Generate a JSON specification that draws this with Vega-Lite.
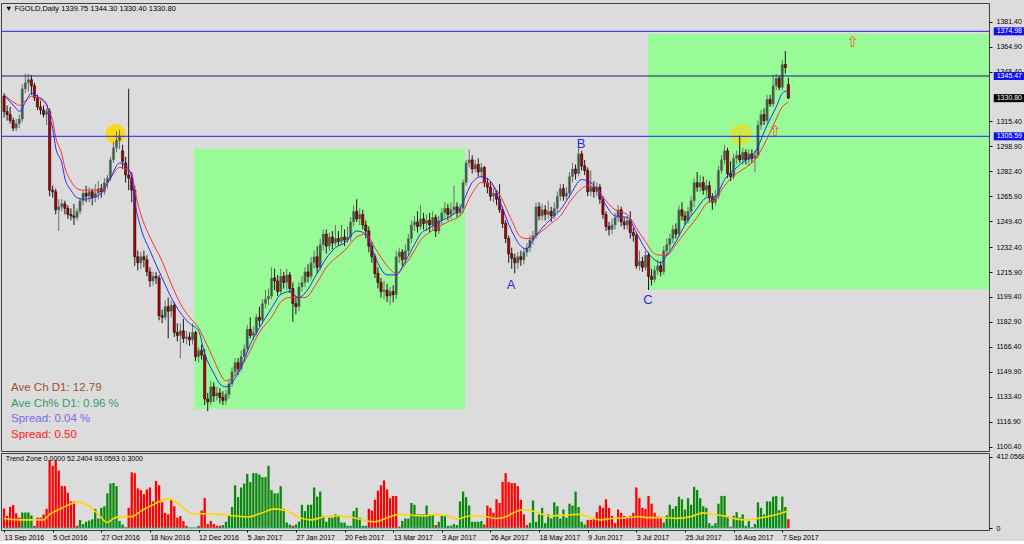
{
"$schema":"https://vega.github.io/schema/vega-lite/v6.json",
"background":"#dcdcdc",
"padding":{"left":0,"top":2,"right":0,"bottom":0},
"spacing":0,
"config":{"view":{"stroke":"#404040","strokeWidth":1},"axis":{"labelFont":"Liberation Sans","labelFontSize":7,"labelColor":"#000","tickColor":"#000","domain":false,"grid":false},"text":{"font":"Liberation Sans"}},
"datasets":{
"k":[
{"i":0,"o":1332,"h":1334,"l":1318,"c":1322,"v":113,"g":0},
{"i":1,"o":1322,"h":1326,"l":1316,"c":1320,"v":70,"g":0},
{"i":2,"o":1320,"h":1325,"l":1314,"c":1316,"v":122,"g":0},
{"i":3,"o":1316,"h":1318,"l":1309,"c":1311,"v":133,"g":0},
{"i":4,"o":1311,"h":1317,"l":1309,"c":1314,"v":85,"g":0},
{"i":5,"o":1314,"h":1320,"l":1311,"c":1317,"v":60,"g":0},
{"i":6,"o":1317,"h":1340,"l":1315,"c":1337,"v":90,"g":1},
{"i":7,"o":1337,"h":1347,"l":1334,"c":1341,"v":90,"g":1},
{"i":8,"o":1341,"h":1347,"l":1335,"c":1343,"v":90,"g":1},
{"i":9,"o":1343,"h":1346,"l":1333,"c":1339,"v":73,"g":1},
{"i":10,"o":1339,"h":1341,"l":1329,"c":1331,"v":13,"g":0},
{"i":11,"o":1331,"h":1333,"l":1323,"c":1325,"v":60,"g":0},
{"i":12,"o":1325,"h":1329,"l":1320,"c":1323,"v":60,"g":0},
{"i":13,"o":1323,"h":1326,"l":1318,"c":1320,"v":79,"g":0},
{"i":14,"o":1320,"h":1324,"l":1313,"c":1322,"v":111,"g":0},
{"i":15,"o":1322,"h":1324,"l":1266,"c":1270,"v":393,"g":0},
{"i":16,"o":1270,"h":1273,"l":1265,"c":1269,"v":361,"g":0},
{"i":17,"o":1269,"h":1271,"l":1254,"c":1257,"v":393,"g":0},
{"i":18,"o":1257,"h":1264,"l":1243,"c":1259,"v":333,"g":0},
{"i":19,"o":1259,"h":1264,"l":1256,"c":1261,"v":243,"g":0},
{"i":20,"o":1261,"h":1263,"l":1254,"c":1258,"v":243,"g":0},
{"i":21,"o":1258,"h":1260,"l":1251,"c":1254,"v":205,"g":0},
{"i":22,"o":1254,"h":1258,"l":1250,"c":1253,"v":154,"g":0},
{"i":23,"o":1253,"h":1261,"l":1247,"c":1252,"v":154,"g":0},
{"i":24,"o":1252,"h":1258,"l":1250,"c":1256,"v":13,"g":0},
{"i":25,"o":1256,"h":1265,"l":1254,"c":1263,"v":47,"g":1},
{"i":26,"o":1263,"h":1270,"l":1260,"c":1268,"v":23,"g":1},
{"i":27,"o":1268,"h":1273,"l":1262,"c":1266,"v":36,"g":1},
{"i":28,"o":1266,"h":1272,"l":1262,"c":1269,"v":43,"g":1},
{"i":29,"o":1269,"h":1271,"l":1260,"c":1265,"v":50,"g":1},
{"i":30,"o":1265,"h":1274,"l":1262,"c":1268,"v":111,"g":1},
{"i":31,"o":1268,"h":1276,"l":1264,"c":1271,"v":55,"g":1},
{"i":32,"o":1271,"h":1274,"l":1265,"c":1269,"v":117,"g":1},
{"i":33,"o":1269,"h":1278,"l":1267,"c":1275,"v":126,"g":1},
{"i":34,"o":1275,"h":1280,"l":1271,"c":1278,"v":201,"g":1},
{"i":35,"o":1278,"h":1292,"l":1276,"c":1290,"v":258,"g":1},
{"i":36,"o":1290,"h":1302,"l":1288,"c":1298,"v":261,"g":1},
{"i":37,"o":1298,"h":1309,"l":1295,"c":1303,"v":243,"g":1},
{"i":38,"o":1303,"h":1310,"l":1297,"c":1305,"v":41,"g":1},
{"i":39,"o":1296,"h":1300,"l":1284,"c":1289,"v":20,"g":1},
{"i":40,"o":1288,"h":1292,"l":1275,"c":1280,"v":4,"g":0},
{"i":41,"o":1280,"h":1337,"l":1270,"c":1278,"v":117,"g":0},
{"i":42,"o":1278,"h":1282,"l":1262,"c":1270,"v":323,"g":0},
{"i":43,"o":1270,"h":1273,"l":1220,"c":1226,"v":318,"g":0},
{"i":44,"o":1226,"h":1230,"l":1217,"c":1222,"v":230,"g":0},
{"i":45,"o":1222,"h":1229,"l":1218,"c":1226,"v":220,"g":0},
{"i":46,"o":1226,"h":1230,"l":1219,"c":1224,"v":196,"g":0},
{"i":47,"o":1224,"h":1227,"l":1213,"c":1216,"v":224,"g":0},
{"i":48,"o":1216,"h":1219,"l":1206,"c":1210,"v":235,"g":0},
{"i":49,"o":1210,"h":1216,"l":1207,"c":1213,"v":154,"g":0},
{"i":50,"o":1213,"h":1216,"l":1208,"c":1212,"v":273,"g":0},
{"i":51,"o":1212,"h":1214,"l":1184,"c":1187,"v":248,"g":0},
{"i":52,"o":1187,"h":1191,"l":1182,"c":1186,"v":149,"g":0},
{"i":53,"o":1186,"h":1197,"l":1184,"c":1193,"v":88,"g":0},
{"i":54,"o":1193,"h":1199,"l":1172,"c":1190,"v":79,"g":0},
{"i":55,"o":1190,"h":1197,"l":1186,"c":1194,"v":164,"g":0},
{"i":56,"o":1194,"h":1196,"l":1173,"c":1176,"v":126,"g":0},
{"i":57,"o":1176,"h":1182,"l":1170,"c":1174,"v":60,"g":0},
{"i":58,"o":1174,"h":1182,"l":1159,"c":1177,"v":70,"g":0},
{"i":59,"o":1177,"h":1185,"l":1169,"c":1172,"v":40,"g":0},
{"i":60,"o":1172,"h":1177,"l":1168,"c":1173,"v":13,"g":0},
{"i":61,"o":1173,"h":1176,"l":1167,"c":1171,"v":3,"g":2},
{"i":62,"o":1171,"h":1182,"l":1168,"c":1176,"v":3,"g":2},
{"i":63,"o":1176,"h":1177,"l":1157,"c":1160,"v":3,"g":2},
{"i":64,"o":1160,"h":1166,"l":1156,"c":1164,"v":13,"g":0},
{"i":65,"o":1164,"h":1168,"l":1158,"c":1161,"v":101,"g":0},
{"i":66,"o":1161,"h":1165,"l":1128,"c":1132,"v":173,"g":0},
{"i":67,"o":1132,"h":1136,"l":1124,"c":1130,"v":23,"g":0},
{"i":68,"o":1130,"h":1144,"l":1128,"c":1140,"v":41,"g":0},
{"i":69,"o":1140,"h":1143,"l":1130,"c":1134,"v":23,"g":0},
{"i":70,"o":1134,"h":1140,"l":1131,"c":1136,"v":13,"g":0},
{"i":71,"o":1136,"h":1139,"l":1129,"c":1133,"v":13,"g":0},
{"i":72,"o":1133,"h":1137,"l":1128,"c":1131,"v":17,"g":1},
{"i":73,"o":1131,"h":1138,"l":1128,"c":1135,"v":36,"g":1},
{"i":74,"o":1135,"h":1145,"l":1132,"c":1142,"v":70,"g":1},
{"i":75,"o":1142,"h":1153,"l":1140,"c":1150,"v":122,"g":1},
{"i":76,"o":1150,"h":1159,"l":1147,"c":1156,"v":248,"g":1},
{"i":77,"o":1156,"h":1159,"l":1148,"c":1152,"v":179,"g":1},
{"i":78,"o":1152,"h":1164,"l":1150,"c":1160,"v":235,"g":1},
{"i":79,"o":1160,"h":1168,"l":1157,"c":1165,"v":258,"g":1},
{"i":80,"o":1165,"h":1181,"l":1163,"c":1178,"v":314,"g":1},
{"i":81,"o":1178,"h":1186,"l":1172,"c":1174,"v":267,"g":1},
{"i":82,"o":1174,"h":1180,"l":1171,"c":1176,"v":318,"g":1},
{"i":83,"o":1176,"h":1188,"l":1174,"c":1186,"v":318,"g":1},
{"i":84,"o":1186,"h":1193,"l":1180,"c":1184,"v":310,"g":1},
{"i":85,"o":1184,"h":1198,"l":1182,"c":1195,"v":295,"g":1},
{"i":86,"o":1195,"h":1204,"l":1192,"c":1198,"v":295,"g":1},
{"i":87,"o":1198,"h":1205,"l":1194,"c":1200,"v":361,"g":1},
{"i":88,"o":1200,"h":1219,"l":1198,"c":1212,"v":220,"g":1},
{"i":89,"o":1212,"h":1218,"l":1204,"c":1210,"v":201,"g":1},
{"i":90,"o":1210,"h":1214,"l":1200,"c":1203,"v":201,"g":1},
{"i":91,"o":1203,"h":1218,"l":1201,"c":1213,"v":243,"g":1},
{"i":92,"o":1213,"h":1216,"l":1205,"c":1209,"v":111,"g":1},
{"i":93,"o":1209,"h":1218,"l":1204,"c":1214,"v":32,"g":1},
{"i":94,"o":1214,"h":1216,"l":1202,"c":1205,"v":20,"g":1},
{"i":95,"o":1205,"h":1209,"l":1183,"c":1195,"v":13,"g":0},
{"i":96,"o":1195,"h":1200,"l":1188,"c":1193,"v":20,"g":1},
{"i":97,"o":1193,"h":1209,"l":1190,"c":1206,"v":36,"g":1},
{"i":98,"o":1206,"h":1213,"l":1203,"c":1209,"v":135,"g":1},
{"i":99,"o":1209,"h":1219,"l":1206,"c":1216,"v":98,"g":1},
{"i":100,"o":1216,"h":1221,"l":1209,"c":1213,"v":135,"g":1},
{"i":101,"o":1213,"h":1226,"l":1211,"c":1222,"v":135,"g":1},
{"i":102,"o":1222,"h":1230,"l":1218,"c":1226,"v":235,"g":1},
{"i":103,"o":1226,"h":1233,"l":1215,"c":1219,"v":182,"g":1},
{"i":104,"o":1219,"h":1238,"l":1217,"c":1234,"v":211,"g":1},
{"i":105,"o":1234,"h":1244,"l":1230,"c":1241,"v":70,"g":1},
{"i":106,"o":1241,"h":1244,"l":1228,"c":1233,"v":36,"g":1},
{"i":107,"o":1233,"h":1242,"l":1230,"c":1239,"v":60,"g":1},
{"i":108,"o":1239,"h":1243,"l":1231,"c":1235,"v":60,"g":1},
{"i":109,"o":1235,"h":1247,"l":1233,"c":1238,"v":79,"g":1},
{"i":110,"o":1238,"h":1243,"l":1233,"c":1236,"v":73,"g":1},
{"i":111,"o":1236,"h":1247,"l":1234,"c":1239,"v":32,"g":1},
{"i":112,"o":1239,"h":1244,"l":1233,"c":1237,"v":32,"g":1},
{"i":113,"o":1237,"h":1246,"l":1235,"c":1239,"v":13,"g":1},
{"i":114,"o":1239,"h":1252,"l":1236,"c":1249,"v":13,"g":1},
{"i":115,"o":1249,"h":1260,"l":1246,"c":1256,"v":98,"g":1},
{"i":116,"o":1256,"h":1264,"l":1249,"c":1251,"v":117,"g":1},
{"i":117,"o":1251,"h":1258,"l":1247,"c":1254,"v":60,"g":1},
{"i":118,"o":1254,"h":1257,"l":1244,"c":1247,"v":13,"g":1},
{"i":119,"o":1247,"h":1250,"l":1238,"c":1243,"v":13,"g":1},
{"i":120,"o":1243,"h":1246,"l":1229,"c":1233,"v":111,"g":0},
{"i":121,"o":1233,"h":1236,"l":1222,"c":1226,"v":101,"g":0},
{"i":122,"o":1226,"h":1228,"l":1212,"c":1215,"v":164,"g":0},
{"i":123,"o":1215,"h":1219,"l":1205,"c":1209,"v":216,"g":0},
{"i":124,"o":1209,"h":1212,"l":1199,"c":1203,"v":248,"g":0},
{"i":125,"o":1203,"h":1210,"l":1198,"c":1204,"v":276,"g":0},
{"i":126,"o":1204,"h":1208,"l":1196,"c":1200,"v":224,"g":0},
{"i":127,"o":1200,"h":1206,"l":1194,"c":1203,"v":173,"g":0},
{"i":128,"o":1203,"h":1207,"l":1196,"c":1201,"v":186,"g":0},
{"i":129,"o":1201,"h":1230,"l":1198,"c":1226,"v":186,"g":0},
{"i":130,"o":1226,"h":1232,"l":1222,"c":1229,"v":8,"g":0},
{"i":131,"o":1229,"h":1231,"l":1220,"c":1224,"v":41,"g":1},
{"i":132,"o":1224,"h":1234,"l":1221,"c":1230,"v":55,"g":1},
{"i":133,"o":1230,"h":1241,"l":1227,"c":1238,"v":55,"g":1},
{"i":134,"o":1238,"h":1250,"l":1235,"c":1247,"v":145,"g":1},
{"i":135,"o":1247,"h":1253,"l":1243,"c":1249,"v":135,"g":1},
{"i":136,"o":1249,"h":1256,"l":1242,"c":1246,"v":79,"g":1},
{"i":137,"o":1246,"h":1260,"l":1244,"c":1251,"v":79,"g":1},
{"i":138,"o":1251,"h":1255,"l":1244,"c":1248,"v":79,"g":1},
{"i":139,"o":1248,"h":1254,"l":1243,"c":1250,"v":130,"g":1},
{"i":140,"o":1250,"h":1255,"l":1242,"c":1247,"v":79,"g":1},
{"i":141,"o":1247,"h":1256,"l":1244,"c":1252,"v":79,"g":1},
{"i":142,"o":1252,"h":1254,"l":1239,"c":1243,"v":17,"g":0},
{"i":143,"o":1243,"h":1253,"l":1241,"c":1250,"v":36,"g":1},
{"i":144,"o":1250,"h":1258,"l":1247,"c":1255,"v":70,"g":1},
{"i":145,"o":1255,"h":1262,"l":1252,"c":1258,"v":70,"g":1},
{"i":146,"o":1258,"h":1261,"l":1250,"c":1254,"v":13,"g":1},
{"i":147,"o":1254,"h":1262,"l":1251,"c":1257,"v":13,"g":1},
{"i":148,"o":1257,"h":1273,"l":1254,"c":1259,"v":23,"g":1},
{"i":149,"o":1259,"h":1262,"l":1252,"c":1255,"v":17,"g":1},
{"i":150,"o":1255,"h":1261,"l":1253,"c":1258,"v":154,"g":1},
{"i":151,"o":1258,"h":1277,"l":1255,"c":1275,"v":211,"g":1},
{"i":152,"o":1275,"h":1290,"l":1273,"c":1288,"v":179,"g":1},
{"i":153,"o":1288,"h":1297,"l":1285,"c":1290,"v":130,"g":1},
{"i":154,"o":1290,"h":1293,"l":1281,"c":1284,"v":36,"g":1},
{"i":155,"o":1284,"h":1290,"l":1282,"c":1287,"v":36,"g":1},
{"i":156,"o":1287,"h":1291,"l":1279,"c":1282,"v":36,"g":1},
{"i":157,"o":1282,"h":1288,"l":1278,"c":1285,"v":40,"g":1},
{"i":158,"o":1285,"h":1286,"l":1272,"c":1275,"v":20,"g":0},
{"i":159,"o":1275,"h":1278,"l":1268,"c":1272,"v":130,"g":0},
{"i":160,"o":1272,"h":1276,"l":1263,"c":1266,"v":117,"g":0},
{"i":161,"o":1266,"h":1271,"l":1262,"c":1268,"v":88,"g":0},
{"i":162,"o":1268,"h":1270,"l":1260,"c":1264,"v":167,"g":0},
{"i":163,"o":1264,"h":1274,"l":1255,"c":1257,"v":145,"g":0},
{"i":164,"o":1257,"h":1259,"l":1245,"c":1248,"v":267,"g":0},
{"i":165,"o":1248,"h":1250,"l":1235,"c":1238,"v":318,"g":0},
{"i":166,"o":1238,"h":1240,"l":1222,"c":1228,"v":267,"g":0},
{"i":167,"o":1228,"h":1232,"l":1218,"c":1225,"v":261,"g":0},
{"i":168,"o":1225,"h":1228,"l":1215,"c":1222,"v":261,"g":0},
{"i":169,"o":1222,"h":1229,"l":1218,"c":1226,"v":243,"g":0},
{"i":170,"o":1226,"h":1230,"l":1220,"c":1224,"v":164,"g":0},
{"i":171,"o":1224,"h":1232,"l":1221,"c":1229,"v":79,"g":0},
{"i":172,"o":1229,"h":1235,"l":1226,"c":1232,"v":17,"g":0},
{"i":173,"o":1232,"h":1240,"l":1229,"c":1237,"v":30,"g":1},
{"i":174,"o":1237,"h":1243,"l":1234,"c":1240,"v":160,"g":1},
{"i":175,"o":1240,"h":1262,"l":1238,"c":1259,"v":36,"g":1},
{"i":176,"o":1259,"h":1262,"l":1250,"c":1253,"v":79,"g":1},
{"i":177,"o":1253,"h":1261,"l":1250,"c":1257,"v":117,"g":1},
{"i":178,"o":1257,"h":1260,"l":1250,"c":1254,"v":28,"g":1},
{"i":179,"o":1254,"h":1263,"l":1251,"c":1256,"v":79,"g":1},
{"i":180,"o":1256,"h":1259,"l":1249,"c":1253,"v":55,"g":1},
{"i":181,"o":1253,"h":1262,"l":1251,"c":1258,"v":149,"g":1},
{"i":182,"o":1258,"h":1269,"l":1255,"c":1266,"v":126,"g":1},
{"i":183,"o":1266,"h":1274,"l":1263,"c":1271,"v":55,"g":1},
{"i":184,"o":1271,"h":1274,"l":1263,"c":1266,"v":107,"g":1},
{"i":185,"o":1266,"h":1272,"l":1263,"c":1268,"v":60,"g":1},
{"i":186,"o":1268,"h":1282,"l":1265,"c":1279,"v":141,"g":1},
{"i":187,"o":1279,"h":1288,"l":1275,"c":1284,"v":130,"g":1},
{"i":188,"o":1284,"h":1287,"l":1277,"c":1281,"v":211,"g":1},
{"i":189,"o":1281,"h":1298,"l":1279,"c":1294,"v":122,"g":1},
{"i":190,"o":1294,"h":1296,"l":1283,"c":1286,"v":36,"g":1},
{"i":191,"o":1286,"h":1290,"l":1280,"c":1283,"v":20,"g":1},
{"i":192,"o":1283,"h":1285,"l":1266,"c":1269,"v":47,"g":0},
{"i":193,"o":1269,"h":1283,"l":1266,"c":1272,"v":47,"g":0},
{"i":194,"o":1272,"h":1276,"l":1265,"c":1269,"v":51,"g":0},
{"i":195,"o":1269,"h":1275,"l":1266,"c":1272,"v":92,"g":0},
{"i":196,"o":1272,"h":1274,"l":1261,"c":1264,"v":130,"g":0},
{"i":197,"o":1264,"h":1266,"l":1251,"c":1254,"v":117,"g":0},
{"i":198,"o":1254,"h":1256,"l":1243,"c":1246,"v":167,"g":0},
{"i":199,"o":1246,"h":1249,"l":1240,"c":1244,"v":117,"g":0},
{"i":200,"o":1244,"h":1251,"l":1241,"c":1247,"v":70,"g":0},
{"i":201,"o":1247,"h":1255,"l":1244,"c":1252,"v":28,"g":0},
{"i":202,"o":1252,"h":1260,"l":1249,"c":1257,"v":107,"g":0},
{"i":203,"o":1257,"h":1259,"l":1246,"c":1249,"v":88,"g":0},
{"i":204,"o":1249,"h":1252,"l":1244,"c":1247,"v":70,"g":0},
{"i":205,"o":1247,"h":1253,"l":1244,"c":1250,"v":60,"g":0},
{"i":206,"o":1250,"h":1256,"l":1238,"c":1242,"v":70,"g":0},
{"i":207,"o":1242,"h":1245,"l":1236,"c":1240,"v":88,"g":0},
{"i":208,"o":1240,"h":1242,"l":1218,"c":1220,"v":235,"g":0},
{"i":209,"o":1220,"h":1230,"l":1217,"c":1223,"v":173,"g":0},
{"i":210,"o":1223,"h":1226,"l":1216,"c":1219,"v":117,"g":0},
{"i":211,"o":1219,"h":1230,"l":1217,"c":1227,"v":111,"g":0},
{"i":212,"o":1227,"h":1229,"l":1204,"c":1213,"v":186,"g":0},
{"i":213,"o":1213,"h":1218,"l":1207,"c":1211,"v":141,"g":0},
{"i":214,"o":1211,"h":1220,"l":1209,"c":1217,"v":88,"g":0},
{"i":215,"o":1217,"h":1224,"l":1214,"c":1220,"v":66,"g":0},
{"i":216,"o":1220,"h":1223,"l":1213,"c":1216,"v":66,"g":0},
{"i":217,"o":1216,"h":1233,"l":1214,"c":1230,"v":32,"g":1},
{"i":218,"o":1230,"h":1238,"l":1227,"c":1234,"v":73,"g":1},
{"i":219,"o":1234,"h":1241,"l":1230,"c":1238,"v":135,"g":1},
{"i":220,"o":1238,"h":1247,"l":1235,"c":1244,"v":111,"g":1},
{"i":221,"o":1244,"h":1248,"l":1238,"c":1241,"v":126,"g":1},
{"i":222,"o":1241,"h":1260,"l":1239,"c":1257,"v":182,"g":1},
{"i":223,"o":1257,"h":1262,"l":1250,"c":1253,"v":167,"g":1},
{"i":224,"o":1253,"h":1256,"l":1247,"c":1250,"v":107,"g":1},
{"i":225,"o":1250,"h":1259,"l":1248,"c":1256,"v":173,"g":1},
{"i":226,"o":1256,"h":1266,"l":1253,"c":1263,"v":135,"g":1},
{"i":227,"o":1263,"h":1278,"l":1259,"c":1275,"v":239,"g":1},
{"i":228,"o":1275,"h":1282,"l":1269,"c":1272,"v":220,"g":1},
{"i":229,"o":1272,"h":1280,"l":1269,"c":1275,"v":173,"g":1},
{"i":230,"o":1275,"h":1279,"l":1267,"c":1270,"v":126,"g":1},
{"i":231,"o":1270,"h":1277,"l":1266,"c":1273,"v":117,"g":1},
{"i":232,"o":1273,"h":1276,"l":1262,"c":1265,"v":28,"g":1},
{"i":233,"o":1265,"h":1268,"l":1257,"c":1262,"v":13,"g":1},
{"i":234,"o":1262,"h":1270,"l":1260,"c":1266,"v":28,"g":1},
{"i":235,"o":1266,"h":1286,"l":1264,"c":1283,"v":141,"g":1},
{"i":236,"o":1283,"h":1293,"l":1281,"c":1290,"v":186,"g":1},
{"i":237,"o":1290,"h":1300,"l":1287,"c":1296,"v":186,"g":1},
{"i":238,"o":1296,"h":1298,"l":1278,"c":1281,"v":70,"g":1},
{"i":239,"o":1281,"h":1289,"l":1276,"c":1279,"v":8,"g":0},
{"i":240,"o":1279,"h":1294,"l":1277,"c":1291,"v":70,"g":1},
{"i":241,"o":1291,"h":1296,"l":1287,"c":1293,"v":92,"g":1},
{"i":242,"o":1293,"h":1306,"l":1288,"c":1290,"v":60,"g":1},
{"i":243,"o":1290,"h":1298,"l":1287,"c":1295,"v":79,"g":1},
{"i":244,"o":1295,"h":1297,"l":1287,"c":1290,"v":13,"g":1},
{"i":245,"o":1290,"h":1297,"l":1286,"c":1294,"v":41,"g":1},
{"i":246,"o":1294,"h":1297,"l":1288,"c":1291,"v":4,"g":0},
{"i":247,"o":1291,"h":1296,"l":1282,"c":1293,"v":23,"g":1},
{"i":248,"o":1293,"h":1316,"l":1291,"c":1313,"v":149,"g":1},
{"i":249,"o":1313,"h":1323,"l":1310,"c":1320,"v":117,"g":1},
{"i":250,"o":1320,"h":1324,"l":1313,"c":1316,"v":79,"g":1},
{"i":251,"o":1316,"h":1333,"l":1314,"c":1330,"v":154,"g":1},
{"i":252,"o":1330,"h":1333,"l":1325,"c":1327,"v":154,"g":1},
{"i":253,"o":1327,"h":1346,"l":1325,"c":1339,"v":182,"g":1},
{"i":254,"o":1339,"h":1347,"l":1336,"c":1344,"v":186,"g":1},
{"i":255,"o":1344,"h":1346,"l":1336,"c":1338,"v":103,"g":1},
{"i":256,"o":1338,"h":1356,"l":1336,"c":1353,"v":182,"g":1},
{"i":257,"o":1353,"h":1362,"l":1347,"c":1351,"v":122,"g":1},
{"i":258,"o":1339.75,"h":1344.3,"l":1330.4,"c":1330.8,"v":51,"g":0}
],
"ma":[
{"i":0,"b":1333,"r":1333},{"i":4,"b":1324,"r":1327},{"i":5,"b":1322,"r":1326},{"i":7,"b":1328,"r":1329},{"i":9,"b":1334,"r":1332},{"i":11,"b":1332,"r":1331},{"i":14,"b":1327,"r":1326},{"i":15,"b":1318,"r":1321},{"i":16,"b":1311,"r":1316},{"i":17,"b":1298,"r":1305},{"i":19,"b":1288,"r":1294},{"i":20,"b":1278,"r":1285},{"i":22,"b":1270,"r":1276},{"i":24,"b":1265,"r":1271},{"i":26,"b":1264,"r":1270},{"i":29,"b":1265,"r":1270},{"i":32,"b":1268,"r":1270},{"i":35,"b":1278,"r":1278},{"i":38,"b":1288,"r":1285},{"i":40,"b":1286,"r":1284},{"i":42,"b":1279,"r":1281},{"i":43,"b":1263,"r":1270},{"i":45,"b":1245,"r":1254},{"i":48,"b":1230,"r":1239},{"i":52,"b":1212,"r":1223},{"i":55,"b":1199,"r":1208},{"i":58,"b":1189,"r":1195},{"i":61,"b":1182,"r":1186},{"i":64,"b":1177,"r":1179},{"i":66,"b":1162,"r":1171},{"i":69,"b":1149,"r":1158},{"i":71,"b":1142,"r":1149},{"i":73,"b":1140,"r":1144},{"i":75,"b":1143,"r":1146},{"i":78,"b":1153,"r":1153},{"i":81,"b":1168,"r":1164},{"i":84,"b":1179,"r":1176},{"i":88,"b":1192,"r":1186},{"i":91,"b":1201,"r":1196},{"i":94,"b":1203,"r":1199},{"i":97,"b":1199,"r":1199},{"i":99,"b":1202,"r":1199},{"i":103,"b":1215,"r":1209},{"i":106,"b":1225,"r":1219},{"i":109,"b":1232,"r":1225},{"i":112,"b":1235,"r":1230},{"i":116,"b":1243,"r":1239},{"i":119,"b":1241,"r":1241},{"i":122,"b":1226,"r":1232},{"i":126,"b":1214,"r":1220},{"i":129,"b":1214,"r":1215},{"i":132,"b":1223,"r":1221},{"i":135,"b":1234,"r":1230},{"i":137,"b":1241,"r":1237},{"i":140,"b":1245,"r":1242},{"i":144,"b":1250,"r":1247},{"i":147,"b":1253,"r":1250},{"i":150,"b":1258,"r":1253},{"i":154,"b":1275,"r":1268},{"i":157,"b":1279,"r":1275},{"i":160,"b":1276,"r":1274},{"i":163,"b":1263,"r":1267},{"i":167,"b":1243,"r":1250},{"i":170,"b":1233,"r":1239},{"i":172,"b":1231,"r":1238},{"i":173,"b":1234,"r":1238},{"i":177,"b":1245,"r":1243},{"i":180,"b":1251,"r":1248},{"i":183,"b":1257,"r":1253},{"i":186,"b":1266,"r":1262},{"i":190,"b":1277,"r":1271},{"i":192,"b":1276,"r":1273},{"i":195,"b":1271,"r":1271},{"i":198,"b":1260,"r":1263},{"i":201,"b":1253,"r":1257},{"i":205,"b":1252,"r":1254},{"i":208,"b":1242,"r":1245},{"i":211,"b":1231,"r":1236},{"i":214,"b":1224,"r":1228},{"i":216,"b":1222,"r":1227},{"i":218,"b":1227,"r":1227},{"i":221,"b":1236,"r":1234},{"i":224,"b":1247,"r":1242},{"i":228,"b":1258,"r":1252},{"i":231,"b":1265,"r":1261},{"i":234,"b":1266,"r":1264},{"i":237,"b":1277,"r":1273},{"i":241,"b":1285,"r":1281},{"i":244,"b":1290,"r":1285},{"i":247,"b":1295,"r":1290},{"i":251,"b":1313,"r":1304},{"i":254,"b":1325,"r":1317},{"i":256,"b":1334,"r":1325},{"i":258,"b":1336,"r":1328}
],
"sig":[
{"i":0,"s":55},{"i":5,"s":47},{"i":10,"s":47},{"i":13,"s":47},{"i":15,"s":79},{"i":18,"s":107},{"i":21,"s":132},{"i":24,"s":150},{"i":28,"s":126},{"i":31,"s":79},{"i":34,"s":32},{"i":36,"s":55},{"i":38,"s":66},{"i":42,"s":66},{"i":45,"s":98},{"i":49,"s":135},{"i":54,"s":169},{"i":56,"s":158},{"i":59,"s":117},{"i":62,"s":83},{"i":67,"s":83},{"i":71,"s":79},{"i":76,"s":70},{"i":80,"s":64},{"i":85,"s":88},{"i":89,"s":111},{"i":93,"s":98},{"i":98,"s":55},{"i":101,"s":47},{"i":105,"s":64},{"i":110,"s":70},{"i":114,"s":64},{"i":117,"s":51},{"i":122,"s":36},{"i":126,"s":60},{"i":130,"s":79},{"i":134,"s":75},{"i":138,"s":70},{"i":142,"s":79},{"i":146,"s":70},{"i":149,"s":51},{"i":153,"s":70},{"i":157,"s":70},{"i":162,"s":55},{"i":166,"s":73},{"i":167,"s":83},{"i":171,"s":107},{"i":175,"s":92},{"i":179,"s":70},{"i":185,"s":75},{"i":189,"s":79},{"i":193,"s":60},{"i":196,"s":47},{"i":200,"s":55},{"i":205,"s":60},{"i":209,"s":66},{"i":212,"s":60},{"i":217,"s":60},{"i":221,"s":56},{"i":226,"s":66},{"i":230,"s":88},{"i":233,"s":79},{"i":237,"s":70},{"i":240,"s":56},{"i":244,"s":47},{"i":248,"s":56},{"i":252,"s":70},{"i":255,"s":83},{"i":258,"s":98}
]
},
"resolve":{"scale":{"x":"independent","y":"independent","color":"independent","fill":"independent","stroke":"independent","size":"independent","opacity":"independent"}},
"vconcat":[
{"width":988,"height":448,
"layer":[
{"data":{"values":[{"i":62.5,"i2":151.7,"p":1297.4,"p2":1125.3},{"i":211.9,"i2":324,"p":1373.3,"p2":1204.4}]},
"mark":{"type":"rect","color":"#98fb98"},
"encoding":{"x":{"field":"i","type":"quantitative","scale":{"domain":[-1,324],"nice":false,"zero":false,"padding":0},"axis":null},"x2":{"field":"i2"},
"y":{"field":"p","type":"quantitative","scale":{"domain":[1097.6,1393.7],"nice":false,"zero":false},"axis":{"orient":"right","title":null,"values":[1381.4,1364.9,1348.4,1315.4,1298.9,1282.4,1265.9,1249.4,1232.4,1215.9,1199.4,1182.9,1166.4,1149.9,1133.4,1116.9,1100.4],"format":".2f","tickSize":3,"labelPadding":4}},
"y2":{"field":"p2"}}},
{"data":{"values":[{"i":36.6,"p":1307.1,"k":1},{"i":242.4,"p":1306.6,"k":2}]},
"mark":{"type":"point","filled":true,"color":"#ffd700","shape":"circle"},
"encoding":{"x":{"field":"i","type":"quantitative","scale":{"domain":[-1,324],"nice":false,"zero":false,"padding":0},"axis":null},
"y":{"field":"p","type":"quantitative","scale":{"domain":[1097.6,1393.7],"nice":false,"zero":false},"axis":{"orient":"right","title":null,"values":[1381.4,1364.9,1348.4,1315.4,1298.9,1282.4,1265.9,1249.4,1232.4,1215.9,1199.4,1182.9,1166.4,1149.9,1133.4,1116.9,1100.4],"format":".2f","tickSize":3,"labelPadding":4}},
"size":{"condition":{"test":"datum.k==1","value":400},"value":490},
"opacity":{"condition":{"test":"datum.k==1","value":0.9},"value":0.55}}},
{"data":{"name":"k"},
"mark":{"type":"rule","strokeWidth":1},
"encoding":{"x":{"field":"i","type":"quantitative","scale":{"domain":[-1,324],"nice":false,"zero":false,"padding":0},"axis":null},
"y":{"field":"l","type":"quantitative","scale":{"domain":[1097.6,1393.7],"nice":false,"zero":false},"axis":{"orient":"right","title":null,"values":[1381.4,1364.9,1348.4,1315.4,1298.9,1282.4,1265.9,1249.4,1232.4,1215.9,1199.4,1182.9,1166.4,1149.9,1133.4,1116.9,1100.4],"format":".2f","tickSize":3,"labelPadding":4}},
"y2":{"field":"h"},
"color":{"condition":{"test":"datum.c>=datum.o","value":"#6e6e6e"},"value":"#1a1a1a"}}},
{"data":{"name":"k"},
"mark":{"type":"bar","size":2.3,"strokeWidth":0.5},
"encoding":{"x":{"field":"i","type":"quantitative","scale":{"domain":[-1,324],"nice":false,"zero":false,"padding":0},"axis":null},
"y":{"field":"o","type":"quantitative","scale":{"domain":[1097.6,1393.7],"nice":false,"zero":false},"axis":{"orient":"right","title":null,"values":[1381.4,1364.9,1348.4,1315.4,1298.9,1282.4,1265.9,1249.4,1232.4,1215.9,1199.4,1182.9,1166.4,1149.9,1133.4,1116.9,1100.4],"format":".2f","tickSize":3,"labelPadding":4}},
"y2":{"field":"c"},
"fill":{"condition":{"test":"datum.c>=datum.o","value":"#2f5f3f"},"value":"#b00000"},
"stroke":{"condition":{"test":"datum.c>=datum.o","value":"#7a7a7a"},"value":"#000000"}}},
{"data":{"name":"ma"},
"mark":{"type":"line","color":"#ff3030","strokeWidth":1,"interpolate":"monotone"},
"encoding":{"x":{"field":"i","type":"quantitative","scale":{"domain":[-1,324],"nice":false,"zero":false,"padding":0},"axis":null},
"y":{"field":"r","type":"quantitative","scale":{"domain":[1097.6,1393.7],"nice":false,"zero":false},"axis":{"orient":"right","title":null,"values":[1381.4,1364.9,1348.4,1315.4,1298.9,1282.4,1265.9,1249.4,1232.4,1215.9,1199.4,1182.9,1166.4,1149.9,1133.4,1116.9,1100.4],"format":".2f","tickSize":3,"labelPadding":4}}}},
{"data":{"name":"ma"},
"mark":{"type":"line","color":"#2a2aff","strokeWidth":1,"interpolate":"monotone"},
"encoding":{"x":{"field":"i","type":"quantitative","scale":{"domain":[-1,324],"nice":false,"zero":false,"padding":0},"axis":null},
"y":{"field":"b","type":"quantitative","scale":{"domain":[1097.6,1393.7],"nice":false,"zero":false},"axis":{"orient":"right","title":null,"values":[1381.4,1364.9,1348.4,1315.4,1298.9,1282.4,1265.9,1249.4,1232.4,1215.9,1199.4,1182.9,1166.4,1149.9,1133.4,1116.9,1100.4],"format":".2f","tickSize":3,"labelPadding":4}}}},
{"data":{"values":[{"p":1374.98,"n":1},{"p":1345.47,"n":2},{"p":1305.59,"n":1}]},
"mark":{"type":"rule","strokeWidth":1},
"encoding":{"y":{"field":"p","type":"quantitative","scale":{"domain":[1097.6,1393.7],"nice":false,"zero":false},"axis":{"orient":"right","title":null,"values":[1381.4,1364.9,1348.4,1315.4,1298.9,1282.4,1265.9,1249.4,1232.4,1215.9,1199.4,1182.9,1166.4,1149.9,1133.4,1116.9,1100.4],"format":".2f","tickSize":3,"labelPadding":4}},
"color":{"condition":{"test":"datum.n==2","value":"#1c1c80"},"value":"#2020ff"}}},
{"data":{"values":[{"i":166.8,"p":1207,"t":"A"},{"i":189.8,"p":1300.7,"t":"B"},{"i":211.8,"p":1197.2,"t":"C"}]},
"mark":{"type":"text","fontSize":13,"color":"#2828f0","font":"Liberation Sans"},
"encoding":{"x":{"field":"i","type":"quantitative","scale":{"domain":[-1,324],"nice":false,"zero":false,"padding":0},"axis":null},
"y":{"field":"p","type":"quantitative","scale":{"domain":[1097.6,1393.7],"nice":false,"zero":false},"axis":{"orient":"right","title":null,"values":[1381.4,1364.9,1348.4,1315.4,1298.9,1282.4,1265.9,1249.4,1232.4,1215.9,1199.4,1182.9,1166.4,1149.9,1133.4,1116.9,1100.4],"format":".2f","tickSize":3,"labelPadding":4}},
"text":{"field":"t"}}},
{"data":{"values":[{"i":253.7,"p":1309.3,"t":"⇧"},{"i":279.2,"p":1368,"t":"⇧"}]},
"mark":{"type":"text","fontSize":15,"color":"#e8602c","font":"DejaVu Sans"},
"encoding":{"x":{"field":"i","type":"quantitative","scale":{"domain":[-1,324],"nice":false,"zero":false,"padding":0},"axis":null},
"y":{"field":"p","type":"quantitative","scale":{"domain":[1097.6,1393.7],"nice":false,"zero":false},"axis":{"orient":"right","title":null,"values":[1381.4,1364.9,1348.4,1315.4,1298.9,1282.4,1265.9,1249.4,1232.4,1215.9,1199.4,1182.9,1166.4,1149.9,1133.4,1116.9,1100.4],"format":".2f","tickSize":3,"labelPadding":4}},
"text":{"field":"t"}}},
{"data":{"values":[{"i":2.3,"p":1139.1,"t":"Ave Ch D1: 12.79"},{"i":2.3,"p":1128.6,"t":"Ave Ch% D1: 0.96 %"},{"i":2.3,"p":1118.6,"t":"Spread: 0.04 %"},{"i":2.3,"p":1108.1,"t":"Spread: 0.50"}]},
"mark":{"type":"text","fontSize":11.5,"align":"left","baseline":"middle","font":"Liberation Sans"},
"encoding":{"x":{"field":"i","type":"quantitative","scale":{"domain":[-1,324],"nice":false,"zero":false,"padding":0},"axis":null},
"y":{"field":"p","type":"quantitative","scale":{"domain":[1097.6,1393.7],"nice":false,"zero":false},"axis":{"orient":"right","title":null,"values":[1381.4,1364.9,1348.4,1315.4,1298.9,1282.4,1265.9,1249.4,1232.4,1215.9,1199.4,1182.9,1166.4,1149.9,1133.4,1116.9,1100.4],"format":".2f","tickSize":3,"labelPadding":4}},
"text":{"field":"t"},
"color":{"field":"t","type":"nominal","legend":null,"scale":{"domain":["Ave Ch D1: 12.79","Ave Ch% D1: 0.96 %","Spread: 0.04 %","Spread: 0.50"],"range":["#a0522d","#2e9e6b","#7b68ee","#ff1a1a"]}}}},
{"data":{"values":[{"i":0.3,"p":1389.8,"t":"▼ FGOLD,Daily  1339.75 1344.30 1330.40 1330.80"}]},
"mark":{"type":"text","fontSize":7.5,"align":"left","baseline":"middle","color":"#000","font":"Liberation Sans"},
"encoding":{"x":{"field":"i","type":"quantitative","scale":{"domain":[-1,324],"nice":false,"zero":false,"padding":0},"axis":null},
"y":{"field":"p","type":"quantitative","scale":{"domain":[1097.6,1393.7],"nice":false,"zero":false},"axis":{"orient":"right","title":null,"values":[1381.4,1364.9,1348.4,1315.4,1298.9,1282.4,1265.9,1249.4,1232.4,1215.9,1199.4,1182.9,1166.4,1149.9,1133.4,1116.9,1100.4],"format":".2f","tickSize":3,"labelPadding":4}},
"text":{"field":"t"}}},
{"data":{"values":[{"p":1374.98,"n":1},{"p":1345.47,"n":1},{"p":1330.8,"n":2},{"p":1305.59,"n":1}]},
"mark":{"type":"point","filled":true,"opacity":1,"size":64,"shape":"M-3.9,-1H3.9V1H-3.9Z"},
"encoding":{"x":{"datum":330.7,"type":"quantitative","scale":{"domain":[-1,324],"nice":false,"zero":false,"padding":0},"axis":null},
"y":{"field":"p","type":"quantitative","scale":{"domain":[1097.6,1393.7],"nice":false,"zero":false},"axis":{"orient":"right","title":null,"values":[1381.4,1364.9,1348.4,1315.4,1298.9,1282.4,1265.9,1249.4,1232.4,1215.9,1199.4,1182.9,1166.4,1149.9,1133.4,1116.9,1100.4],"format":".2f","tickSize":3,"labelPadding":4}},
"color":{"condition":{"test":"datum.n==2","value":"#000000"},"value":"#1010f0"}}},
{"data":{"values":[{"p":1374.98,"t":"1374.98"},{"p":1345.47,"t":"1345.47"},{"p":1330.8,"t":"1330.80"},{"p":1305.59,"t":"1305.59"}]},
"mark":{"type":"text","fontSize":7,"color":"#ffffff","baseline":"middle","align":"center","font":"Liberation Sans"},
"encoding":{"x":{"datum":330.7,"type":"quantitative","scale":{"domain":[-1,324],"nice":false,"zero":false,"padding":0},"axis":null},
"y":{"field":"p","type":"quantitative","scale":{"domain":[1097.6,1393.7],"nice":false,"zero":false},"axis":{"orient":"right","title":null,"values":[1381.4,1364.9,1348.4,1315.4,1298.9,1282.4,1265.9,1249.4,1232.4,1215.9,1199.4,1182.9,1166.4,1149.9,1133.4,1116.9,1100.4],"format":".2f","tickSize":3,"labelPadding":4}},
"text":{"field":"t"}}}
]},
{"width":988,"height":77,
"data":{"name":"k"},
"encoding":{"x":{"field":"i","type":"quantitative","scale":{"domain":[-1,324],"nice":false,"zero":false,"padding":0},
"axis":{"title":null,"values":[0,16,32,48,64,80,96,112,128,144,160,176,192,208,224,240,256],"labelExpr":"['13 Sep 2016','5 Oct 2016','27 Oct 2016','18 Nov 2016','12 Dec 2016','5 Jan 2017','27 Jan 2017','20 Feb 2017','13 Mar 2017','3 Apr 2017','26 Apr 2017','18 May 2017','9 Jun 2017','3 Jul 2017','25 Jul 2017','16 Aug 2017','7 Sep 2017'][round(datum.value/16)]","labelAlign":"left","labelPadding":1,"tickSize":2,"labelOverlap":false,"labelFlush":false,"labelBound":false}}},
"layer":[
{"mark":{"type":"bar","size":2.3},
"encoding":{
"y":{"field":"v","type":"quantitative","scale":{"domain":[-11.6,435],"nice":false,"zero":false},"axis":{"orient":"right","title":null,"values":[0,412.0568],"labelExpr":"datum.value==0?'0':format(datum.value,'.4f')","tickSize":3,"labelPadding":4}},
"y2":{"datum":0},
"color":{"field":"g","type":"nominal","legend":null,"scale":{"domain":[0,1,2],"range":["#ff0000","#0a8a0a","#20b2aa"]}}}},
{"mark":{"type":"line","color":"#20b2aa","strokeWidth":1},
"encoding":{"y":{"datum":0,"type":"quantitative","scale":{"domain":[-11.6,435],"nice":false,"zero":false},"axis":{"orient":"right","title":null,"values":[0,412.0568],"labelExpr":"datum.value==0?'0':format(datum.value,'.4f')","tickSize":3,"labelPadding":4}}}},
{"data":{"name":"sig"},
"mark":{"type":"line","color":"#ffd700","strokeWidth":1.6,"interpolate":"monotone"},
"encoding":{"y":{"field":"s","type":"quantitative","scale":{"domain":[-11.6,435],"nice":false,"zero":false},"axis":{"orient":"right","title":null,"values":[0,412.0568],"labelExpr":"datum.value==0?'0':format(datum.value,'.4f')","tickSize":3,"labelPadding":4}}}},
{"data":{"values":[{"i":0.6,"v":400,"t":"Trend Zone 0.0000 52.2404 93.0593 0.3000"}]},
"mark":{"type":"text","fontSize":7,"align":"left","baseline":"middle","color":"#000","font":"Liberation Sans"},
"encoding":{"y":{"field":"v","type":"quantitative","scale":{"domain":[-11.6,435],"nice":false,"zero":false},"axis":{"orient":"right","title":null,"values":[0,412.0568],"labelExpr":"datum.value==0?'0':format(datum.value,'.4f')","tickSize":3,"labelPadding":4}},
"text":{"field":"t"}}}
]}
]
}
